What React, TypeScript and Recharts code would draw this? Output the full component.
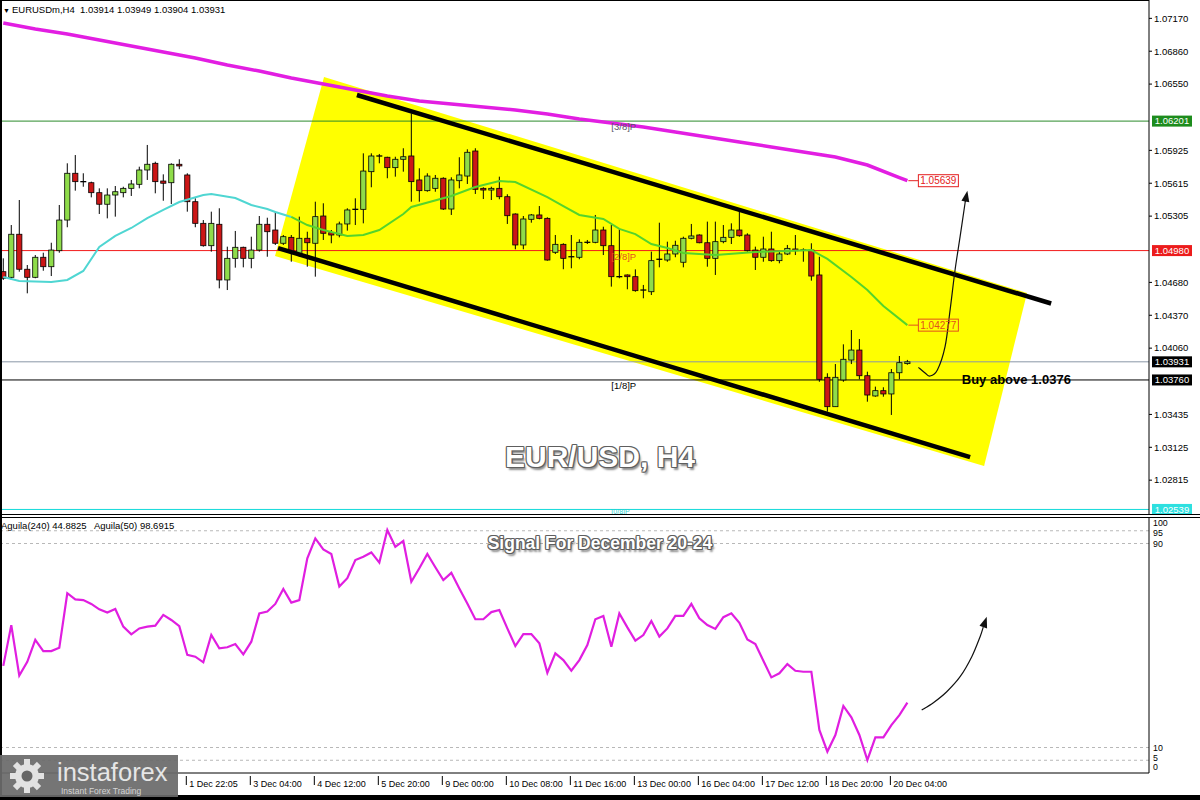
import React from 'react';
import {
  ComposedChart,
  Bar,
  Line,
  XAxis,
  YAxis,
  ReferenceLine,
  ReferenceArea,
  ReferenceDot,
} from 'recharts';

// EURUSD H4 bars, oldest first
const OPEN = [
  1.04781, 1.04728, 1.05134, 1.04804, 1.04728, 1.04917, 1.04828, 1.04979, 1.05268, 1.05709,
  1.0563, 1.0562, 1.05526, 1.05417, 1.05504, 1.05526, 1.05567, 1.05605, 1.0574, 1.05803,
  1.05636, 1.0562, 1.05794, 1.05693, 1.05441, 1.05237, 1.05026, 1.05228, 1.04703, 1.04907,
  1.05011, 1.04907, 1.04985, 1.05228, 1.05174, 1.05049, 1.05105, 1.04954, 1.05096, 1.05049,
  1.05306, 1.05149, 1.05127, 1.05231, 1.0536, 1.05369, 1.05724, 1.05872, 1.0586, 1.05762,
  1.05841, 1.05872, 1.05646, 1.05545, 1.05567, 1.05662, 1.05372, 1.05639, 1.05683, 1.05919,
  1.05567, 1.05551, 1.05567, 1.05488, 1.05325, 1.05033, 1.05275, 1.05316, 1.05284, 1.04964,
  1.05039, 1.04922, 1.04917, 1.05058, 1.05058, 1.05174, 1.05026, 1.04734, 1.0475, 1.04734,
  1.04608, 1.04592, 1.04885, 1.04891, 1.04948, 1.0487, 1.05096, 1.05127, 1.05054, 1.04907,
  1.05064, 1.05105, 1.05174, 1.05127, 1.04985, 1.04917, 1.04995, 1.04885, 1.04948, 1.04995,
  1.04985, 1.04985, 1.0475, 1.03785, 1.03508, 1.0376, 1.03948, 1.04042, 1.038, 1.03609,
  1.03659, 1.03628, 1.03828, 1.03914,
];
const HIGH = [
  1.04907, 1.05221, 1.05457, 1.04844, 1.04938, 1.0496, 1.05054, 1.0541, 1.05803, 1.05881,
  1.05709, 1.0563, 1.05567, 1.05567, 1.05589, 1.05582, 1.05646, 1.05771, 1.05976, 1.05818,
  1.05699, 1.05803, 1.05841, 1.05709, 1.05473, 1.05268, 1.05347, 1.05379, 1.05017, 1.05165,
  1.05017, 1.05111, 1.05306, 1.0529, 1.05347, 1.05127, 1.05127, 1.053, 1.05158, 1.05441,
  1.05426, 1.05174, 1.05253, 1.05379, 1.05473, 1.05897, 1.05897, 1.05891, 1.05865, 1.05865,
  1.05945, 1.06275, 1.05756, 1.05709, 1.05693, 1.05671, 1.05671, 1.0586, 1.05935, 1.05945,
  1.05577, 1.05582, 1.05677, 1.05511, 1.05331, 1.05306, 1.05325, 1.054, 1.05294, 1.05127,
  1.05049, 1.05127, 1.05086, 1.0508, 1.05316, 1.05205, 1.05221, 1.05181, 1.04755, 1.04803,
  1.04656, 1.0497, 1.05243, 1.05064, 1.05073, 1.05111, 1.05231, 1.05133, 1.05253, 1.05253,
  1.05221, 1.05237, 1.05363, 1.05143, 1.05017, 1.05111, 1.05158, 1.0497, 1.05033, 1.05127,
  1.05001, 1.05049, 1.04922, 1.03823, 1.0391, 1.04096, 1.04231, 1.04146, 1.03838, 1.03697,
  1.03691, 1.03863, 1.03986, 1.03949,
];
const LOW = [
  1.04703, 1.04703, 1.04781, 1.04577, 1.04719, 1.0479, 1.0474, 1.0496, 1.052, 1.05545,
  1.05582, 1.05482, 1.05325, 1.05284, 1.053, 1.05482, 1.05495, 1.05567, 1.05646, 1.0552,
  1.0545, 1.05419, 1.05747, 1.05347, 1.052, 1.05017, 1.0497, 1.04624, 1.04608, 1.04819,
  1.04822, 1.04813, 1.0497, 1.04922, 1.05033, 1.05033, 1.04875, 1.04922, 1.04828, 1.04734,
  1.0508, 1.05049, 1.05105, 1.05168, 1.05221, 1.05237, 1.05577, 1.05803, 1.05662, 1.05677,
  1.05724, 1.05441, 1.05441, 1.05535, 1.05535, 1.05363, 1.05316, 1.05567, 1.05608, 1.05514,
  1.05466, 1.05457, 1.05464, 1.05231, 1.04992, 1.04992, 1.05243, 1.05275, 1.04885, 1.04948,
  1.04804, 1.04813, 1.04898, 1.05042, 1.05049, 1.04938, 1.0464, 1.04719, 1.04615, 1.04592,
  1.0453, 1.04561, 1.04822, 1.04875, 1.04917, 1.04822, 1.05086, 1.05049, 1.04828, 1.0475,
  1.05049, 1.05042, 1.05111, 1.0497, 1.04797, 1.04875, 1.04875, 1.0486, 1.04938, 1.04938,
  1.04875, 1.04696, 1.03743, 1.03461, 1.03508, 1.03743, 1.0391, 1.03766, 1.03555, 1.03602,
  1.03602, 1.0343, 1.03766, 1.03904,
];
const CLOSE = [
  1.04719, 1.05134, 1.04804, 1.04728, 1.04917, 1.04828, 1.04985, 1.05268, 1.05709, 1.0563,
  1.05615, 1.05526, 1.05417, 1.05504, 1.05535, 1.05567, 1.05608, 1.0574, 1.05794, 1.0563,
  1.05615, 1.05794, 1.05778, 1.05441, 1.05237, 1.05026, 1.05237, 1.04703, 1.04907, 1.05011,
  1.04907, 1.04985, 1.05228, 1.05158, 1.05049, 1.05111, 1.0497, 1.05096, 1.05054, 1.053,
  1.05143, 1.05127, 1.05231, 1.05363, 1.05369, 1.0573, 1.05872, 1.0586, 1.05762, 1.05841,
  1.05865, 1.0563, 1.05545, 1.05683, 1.05662, 1.05372, 1.05646, 1.05693, 1.05907, 1.05558,
  1.05551, 1.05567, 1.05488, 1.05309, 1.05033, 1.05278, 1.05316, 1.05284, 1.04891, 1.05039,
  1.04907, 1.04913, 1.05058, 1.05049, 1.05174, 1.05026, 1.04734, 1.04722, 1.04734, 1.04602,
  1.04599, 1.04885, 1.04898, 1.04948, 1.0503, 1.05096, 1.05118, 1.05054, 1.04907, 1.05064,
  1.05105, 1.05174, 1.0512, 1.04979, 1.04917, 1.04995, 1.04885, 1.04948, 1.05001, 1.04979,
  1.04976, 1.0474, 1.03766, 1.03508, 1.03785, 1.03955, 1.04042, 1.038, 1.03618, 1.03659,
  1.03628, 1.03828, 1.03923, 1.03931,
];

// slow MA (magenta), read every few bars
const SLOW_MA_IDX = [0, 4, 8, 12, 16, 20, 24, 28, 32, 36, 40, 44, 48, 52, 56, 60, 64, 68, 72, 76, 80, 84, 88, 92, 96, 100, 104, 108, 112, 113];
const SLOW_MA = [
  1.07126, 1.0707, 1.07022, 1.06966, 1.06909, 1.06853, 1.06796, 1.0673, 1.06673, 1.06607,
  1.06551, 1.06494, 1.06438, 1.06391, 1.06362, 1.06334, 1.06306, 1.06268, 1.06221, 1.06183,
  1.06145, 1.06098, 1.06051, 1.06004, 1.05957, 1.0591, 1.05862, 1.05787, 1.05669, 1.05639,
];

// fast MA (cyan / green)
const FAST_MA_IDX = [0, 2, 6, 8, 10, 12, 14, 16, 18, 20, 22, 25, 26, 29, 31, 33, 34, 36, 38, 40, 43, 45, 47, 50, 51, 56, 59, 62, 64, 68, 70, 72, 75, 77, 79, 81, 83, 85, 89, 94, 98, 101, 103, 106, 108, 110, 113];
const FAST_MA = [
  1.04731, 1.04693, 1.04684, 1.04703, 1.04788, 1.05014, 1.05118, 1.05193, 1.05287, 1.05363,
  1.05438, 1.05504, 1.05514, 1.05476, 1.0541, 1.05372, 1.05344, 1.05297, 1.05221, 1.05174,
  1.05118, 1.05127, 1.05174, 1.05325, 1.05391, 1.05495, 1.0558, 1.05636, 1.05627, 1.05485,
  1.054, 1.05316, 1.05278, 1.05184, 1.05136, 1.05042, 1.05004, 1.04957, 1.04938, 1.04967,
  1.04976, 1.04985, 1.04901, 1.04731, 1.04608, 1.04457, 1.04277,
];

// Aguila oscillator, one value per bar
const AGUILA = [
  42.0, 58.0, 38.2, 43.6, 52.2, 47.8, 47.8, 49.1, 70.5, 68.1,
  67.8, 66.3, 64.2, 62.9, 64.3, 57.4, 54.4, 56.7, 57.4, 57.8,
  62.0, 60.0, 57.6, 46.3, 45.6, 43.4, 54.1, 48.9, 49.3, 50.6,
  46.5, 51.5, 62.6, 63.3, 66.3, 72.2, 66.8, 67.8, 84.2, 92.0,
  87.7, 85.9, 73.1, 76.4, 83.5, 84.8, 86.5, 82.5, 95.3, 88.7,
  91.0, 75.0, 80.3, 85.9, 80.7, 75.7, 78.5, 72.4, 66.5, 60.3,
  60.3, 63.1, 63.9, 56.7, 49.8, 54.5, 54.5, 50.9, 39.3, 46.9,
  44.3, 40.1, 44.3, 50.2, 60.3, 61.6, 49.5, 62.6, 57.1, 51.9,
  54.1, 59.6, 53.5, 56.7, 61.6, 61.6, 66.3, 60.7, 58.0, 56.5,
  61.1, 62.6, 58.9, 52.4, 50.6, 44.0, 37.5, 39.1, 42.7, 40.1,
  39.7, 39.7, 16.9, 8.4, 14.9, 26.3, 21.8, 14.9, 5.1, 14.0,
  14.0, 18.8, 22.7, 27.6,
];

const TIME_TICK_IDX = [23, 31, 39, 47, 55, 63, 71, 79, 87, 95, 103, 111];
const TIME_TICK_LABELS = [
  '1 Dec 22:05', '3 Dec 04:00', '4 Dec 12:00', '5 Dec 20:00', '9 Dec 00:00', '10 Dec 08:00',
  '11 Dec 16:00', '13 Dec 00:00', '16 Dec 04:00', '17 Dec 12:00', '18 Dec 20:00', '20 Dec 04:00',
];

const PRICE_TICKS = [1.0717, 1.0686, 1.0655, 1.05925, 1.05615, 1.05305, 1.0468, 1.0437, 1.0406, 1.03435, 1.03125, 1.02815];
const OSC_TICKS = [0, 5, 10, 90, 95, 100];
const OSC_LEVELS = [5, 10, 90, 95];

// horizontal levels and their murrey names
const LEVEL_PRICES = [1.06201, 1.0498, 1.03931, 1.0376, 1.02539];
const MURREY_LABELS = ['[3/8]P', '[2/8]P', '', '[1/8]P', '[0/8]P'];
const MURREY_SLOT = 76;

const BUY_LEVEL = 1.0376;
const BUY_NOTE = 'Buy above 1.0376';

// hand-drawn annotations, as [bar slot, value]
type Pt = [number, number];
const CHANNEL_UPPER: Pt[] = [[44.2, 1.06447], [130.97, 1.04481]];
const CHANNEL_LOWER: Pt[] = [[34.34, 1.05004], [120.84, 1.03033]];
const CHANNEL_FILL: Pt[] = [[40.09, 1.06617], [127.96, 1.0458], [122.59, 1.02949], [33.96, 1.04929]];
const PRICE_ARROW: Pt[] = [
  [114.38, 1.03879], [115.21, 1.03826], [115.84, 1.03797], [116.75, 1.03854], [117.71, 1.04074],
  [118.34, 1.0442], [118.96, 1.04797], [119.59, 1.05111], [120.21, 1.05429], [120.5, 1.05545],
];
const OSC_ARROW: Pt[] = [
  [114.79, 24.7], [116.25, 27.57], [117.92, 31.88], [119.59, 37.76], [121.05, 45.61], [122.09, 53.45], [122.92, 61.3],
];

const X_DOMAIN: [number, number] = [-0.41, 143.2];
const PRICE_DOMAIN: [number, number] = [1.02496, 1.07343];
const FONT = '"Liberation Sans", Arial, Helvetica, sans-serif';

const LEVEL_STYLE = [
  { line: '#2b8a2b', tag: '#1d8c1d', note: '#5a5566', size: 9.5, dy: 6 },
  { line: '#f21b1b', tag: '#ec1c1c', note: '#e4511d', size: 9.5, dy: 6 },
  { line: '#8a96a6', tag: '#000000', note: '#000000', size: 9.5, dy: 6 },
  { line: '#000000', tag: '#000000', note: '#000000', size: 9.5, dy: 6 },
  { line: '#12d9d9', tag: '#2ee0e0', note: '#2ccfcf', size: 7, dy: 2 },
];

const rows = OPEN.map((open, i) => {
  const fi = FAST_MA_IDX.indexOf(i);
  const si = SLOW_MA_IDX.indexOf(i);
  const fast = fi >= 0 ? FAST_MA[fi] : null;
  return {
    slot: i,
    open,
    high: HIGH[i],
    low: LOW[i],
    close: CLOSE[i],
    range: [LOW[i], HIGH[i]],
    slow: si >= 0 ? SLOW_MA[si] : null,
    fastOut: i <= 36 ? fast : null,
    fastIn: i >= 36 ? fast : null,
    aguila: AGUILA[i],
  };
});

const renderCandle = (props: any) => {
  const { x, y, width, height, payload } = props;
  if (x == null || !payload) return <g />;
  const { open, close, high, low } = payload;
  const top = Math.min(y, y + height);
  const span = Math.abs(height);
  const k = span / (high - low || 1e-9);
  const cx = x + width / 2;
  const yOf = (p: number) => top + (high - p) * k;
  const yO = yOf(open);
  const yC = yOf(close);
  const bodyTop = Math.min(yO, yC);
  const bodyH = Math.abs(yC - yO);
  return (
    <g>
      <line x1={cx} x2={cx} y1={top} y2={top + span} stroke="#000" strokeWidth={1} />
      {bodyH < 1.6 ? (
        <line x1={cx - 3} x2={cx + 3} y1={bodyTop} y2={bodyTop} stroke="#000" strokeWidth={1.3} />
      ) : (
        <rect
          x={cx - 2.6}
          y={bodyTop}
          width={5.2}
          height={bodyH}
          fill={close >= open ? '#8fdc4a' : '#cc1616'}
          stroke="#000"
          strokeWidth={0.8}
        />
      )}
    </g>
  );
};

const bounds = (pts: Pt[]) => {
  const xs = pts.map((p) => p[0]);
  const ys = pts.map((p) => p[1]);
  return { x1: Math.min(...xs), x2: Math.max(...xs), y1: Math.min(...ys), y2: Math.max(...ys) };
};

// places a drawing given in data units inside the box that ReferenceArea lays out
const annotation = (key: string, pts: Pt[], draw: (px: Pt[]) => React.ReactElement, zIndex: number) => {
  const b = bounds(pts);
  const shape = (props: any) => {
    const { x, y, width, height } = props;
    if (x == null) return <g />;
    const px = pts.map(
      ([s, v]) => [x + ((s - b.x1) / (b.x2 - b.x1)) * width, y + ((b.y2 - v) / (b.y2 - b.y1)) * height] as Pt,
    );
    return draw(px);
  };
  return (
    <ReferenceArea
      key={key}
      x1={b.x1}
      x2={b.x2}
      y1={b.y1}
      y2={b.y2}
      ifOverflow="visible"
      shape={shape}
      zIndex={zIndex}
    />
  );
};

const smoothPath = (p: Pt[]) => {
  let d = `M${p[0][0]},${p[0][1]}`;
  for (let i = 0; i < p.length - 1; i++) {
    const p0 = p[Math.max(i - 1, 0)];
    const p1 = p[i];
    const p2 = p[i + 1];
    const p3 = p[Math.min(i + 2, p.length - 1)];
    const c1x = p1[0] + (p2[0] - p0[0]) / 6;
    const c1y = p1[1] + (p2[1] - p0[1]) / 6;
    const c2x = p2[0] - (p3[0] - p1[0]) / 6;
    const c2y = p2[1] - (p3[1] - p1[1]) / 6;
    d += ` C${c1x},${c1y} ${c2x},${c2y} ${p2[0]},${p2[1]}`;
  }
  return d;
};

const drawArrow = (p: Pt[]) => {
  const tip = p[p.length - 1];
  const prev = p[p.length - 2];
  const a = Math.atan2(tip[1] - prev[1], tip[0] - prev[0]);
  const len = 11;
  const half = 4;
  const base: Pt = [tip[0] - len * Math.cos(a), tip[1] - len * Math.sin(a)];
  const l: Pt = [base[0] + half * Math.sin(a), base[1] - half * Math.cos(a)];
  const r: Pt = [base[0] - half * Math.sin(a), base[1] + half * Math.cos(a)];
  return (
    <g>
      <path d={smoothPath([...p.slice(0, -1), base])} fill="none" stroke="#111" strokeWidth={1.2} />
      <polygon points={`${tip} ${l} ${r}`} fill="#111" />
    </g>
  );
};

const drawFill = (p: Pt[]) => <polygon points={p.map((q) => q.join(',')).join(' ')} fill="#ffff00" />;

const PriceTick = (props: any) => {
  const { x, y, payload } = props;
  return (
    <g>
      <line x1={x} x2={x + 3} y1={y} y2={y} stroke="#000" />
      <text x={x + 5} y={y} dy="0.35em" fontSize={9.5} fontFamily={FONT} fill="#000">
        {Number(payload.value).toFixed(5)}
      </text>
    </g>
  );
};

// MT4 squeezes the edge labels inward
const OSC_LABEL_SHIFT: Record<number, number> = { 100: 4.5, 95: 1.8, 90: 0, 10: 0, 5: -2.8, 0: -6 };
const OscTick = (props: any) => {
  const { x, y, payload } = props;
  return (
    <text x={x + 4} y={y + (OSC_LABEL_SHIFT[payload.value] ?? 0)} dy="0.35em" fontSize={8.8} fontFamily={FONT} fill="#000">
      {payload.value}
    </text>
  );
};

const TimeTick = (props: any) => {
  const { x, y, payload } = props;
  const k = TIME_TICK_IDX.indexOf(payload.value);
  if (k < 0) return <g />;
  return (
    <g>
      <line x1={x - 1} x2={x - 1} y1={y + 3} y2={y + 12} stroke="#000" />
      <text x={x + 2} y={y + 13.5} fontSize={9} fontFamily={FONT} fill="#000">
        {TIME_TICK_LABELS[k]}
      </text>
    </g>
  );
};

const priceTag = (text: string, bg: string) => (d: any) => (
  <g>
    <rect x={d.cx + 3} y={d.cy - 5.5} width={40} height={11} fill={bg} />
    <text x={d.cx + 23} y={d.cy} dy="0.35em" textAnchor="middle" fontSize={9.5} fontFamily={FONT} fill="#fff">
      {text}
    </text>
  </g>
);

const murreyText = (text: string, color: string, size: number, dy: number) => (d: any) => (
  <text x={d.cx} y={d.cy + dy} dy="0.35em" fontSize={size} fontFamily={FONT} fill={color}>
    {text}
  </text>
);

const endTag = (text: string, color: string) => (d: any) => (
  <g>
    <line x1={d.cx + 1} x2={d.cx + 11} y1={d.cy} y2={d.cy} stroke={color} />
    <rect x={d.cx + 11} y={d.cy - 6} width={40} height={12} fill="none" stroke={color} strokeWidth={1} />
    <text x={d.cx + 31} y={d.cy} dy="0.36em" textAnchor="middle" fontSize={10} fontFamily={FONT} fill={color}>
      {text}
    </text>
  </g>
);

const buyNote = (d: any) => (
  <text x={d.cx} y={d.cy - 1} dy="0.36em" fontSize={13} fontWeight={700} fontFamily={FONT} fill="#000">
    {BUY_NOTE}
  </text>
);

const titleStyle = (size: number, top: number): React.CSSProperties => ({
  position: 'absolute',
  left: 0,
  top,
  width: 1200,
  textAlign: 'center',
  fontFamily: FONT,
  fontWeight: 700,
  fontSize: size,
  lineHeight: 1,
  color: '#fff',
  textShadow:
    '-1px 0 #5e5e5e, 1px 0 #5e5e5e, 0 -1px #5e5e5e, 0 1px #5e5e5e, -1px -1px #777, 1px 1px #5e5e5e, 1px -1px #777, -1px 1px #777, 2px 3px 2px rgba(0,0,0,0.45)',
  whiteSpace: 'nowrap',
});

const bar = (left: number, top: number, width: number, height: number): React.CSSProperties => ({
  position: 'absolute',
  left,
  top,
  width,
  height,
  background: '#000',
});

const Gear = () => {
  const teeth = [0, 45, 90, 135, 180, 225, 270, 315];
  return (
    <g transform="translate(27,21)" fill="#e2e2e2">
      {teeth.map((t) => (
        <rect key={t} x={-3} y={-17} width={6} height={8} transform={`rotate(${t})`} />
      ))}
      <circle r={12} />
      <circle r={5.5} fill="#666" />
    </g>
  );
};

export default function App() {
  const lastSlot = rows.length - 1;
  const slowEnd = SLOW_MA[SLOW_MA.length - 1];
  const fastEnd = FAST_MA[FAST_MA.length - 1];

  return (
    <div style={{ position: 'absolute', left: 0, top: 0, width: 1200, height: 800, background: '#fff', overflow: 'hidden' }}>
      <div style={{ position: 'absolute', left: 0, top: 0 }}>
        <ComposedChart width={1200} height={514} data={rows} margin={{ top: 0, right: 0, bottom: 0, left: 0 }}>
          <XAxis type="number" dataKey="slot" domain={X_DOMAIN} allowDataOverflow hide />
          <YAxis
            type="number"
            orientation="right"
            domain={PRICE_DOMAIN}
            allowDataOverflow
            ticks={PRICE_TICKS}
            interval={0}
            width={51}
            tickSize={0}
            tickMargin={0}
            tickLine={false}
            axisLine={{ stroke: '#000' }}
            tick={<PriceTick />}
          />

          {annotation('fill', CHANNEL_FILL, drawFill, 50)}

          {LEVEL_PRICES.map((p, k) => (
            <ReferenceLine key={`lv${k}`} y={p} stroke={LEVEL_STYLE[k].line} strokeWidth={1} zIndex={60} />
          ))}

          <Bar dataKey="range" barSize={6} shape={renderCandle} isAnimationActive={false} zIndex={300} />

          <Line dataKey="slow" stroke="#e21ee2" strokeWidth={3.5} dot={false} connectNulls isAnimationActive={false} zIndex={400} />
          <Line dataKey="fastOut" stroke="#4fd6d2" strokeWidth={2} dot={false} connectNulls isAnimationActive={false} zIndex={400} />
          <Line dataKey="fastIn" stroke="#55d42c" strokeWidth={2} dot={false} connectNulls isAnimationActive={false} zIndex={400} />

          <ReferenceLine
            segment={[{ x: CHANNEL_UPPER[0][0], y: CHANNEL_UPPER[0][1] }, { x: CHANNEL_UPPER[1][0], y: CHANNEL_UPPER[1][1] }]}
            stroke="#000"
            strokeWidth={4.5}
            ifOverflow="visible"
            zIndex={700}
          />
          <ReferenceLine
            segment={[{ x: CHANNEL_LOWER[0][0], y: CHANNEL_LOWER[0][1] }, { x: CHANNEL_LOWER[1][0], y: CHANNEL_LOWER[1][1] }]}
            stroke="#000"
            strokeWidth={4.5}
            ifOverflow="visible"
            zIndex={700}
          />

          {annotation('priceArrow', PRICE_ARROW, drawArrow, 800)}

          {LEVEL_PRICES.map((p, k) =>
            MURREY_LABELS[k] ? (
              <ReferenceDot
                key={`mm${k}`}
                x={MURREY_SLOT}
                y={p}
                ifOverflow="visible"
                zIndex={800}
                shape={murreyText(MURREY_LABELS[k], LEVEL_STYLE[k].note, LEVEL_STYLE[k].size, LEVEL_STYLE[k].dy)}
              />
            ) : null,
          )}

          <ReferenceDot x={lastSlot} y={slowEnd} ifOverflow="visible" zIndex={800} shape={endTag(slowEnd.toFixed(5), '#e42020')} />
          <ReferenceDot x={lastSlot} y={fastEnd} ifOverflow="visible" zIndex={800} shape={endTag(fastEnd.toFixed(5), '#e2501c')} />
          <ReferenceDot x={119.8} y={BUY_LEVEL} ifOverflow="visible" zIndex={800} shape={buyNote} />

          {LEVEL_PRICES.map((p, k) => (
            <ReferenceDot
              key={`tag${k}`}
              x={X_DOMAIN[1]}
              y={p}
              ifOverflow="visible"
              zIndex={900}
              shape={priceTag(p.toFixed(5), LEVEL_STYLE[k].tag)}
            />
          ))}
        </ComposedChart>
      </div>

      <div style={{ position: 'absolute', left: 0, top: 517 }}>
        <ComposedChart width={1200} height={283} data={rows} margin={{ top: 1, right: 0, bottom: 0, left: 0 }}>
          <XAxis
            type="number"
            dataKey="slot"
            domain={X_DOMAIN}
            allowDataOverflow
            ticks={TIME_TICK_IDX}
            interval={0}
            height={27}
            tickSize={0}
            tickMargin={0}
            tickLine={false}
            axisLine={{ stroke: '#000' }}
            tick={<TimeTick />}
          />
          <YAxis
            type="number"
            orientation="right"
            domain={[0, 100]}
            allowDataOverflow
            ticks={OSC_TICKS}
            interval={0}
            width={51}
            tickSize={0}
            tickMargin={0}
            tickLine={false}
            axisLine={{ stroke: '#000' }}
            tick={<OscTick />}
          />
          {OSC_LEVELS.map((v) => (
            <ReferenceLine key={`osc${v}`} y={v} stroke="#b8b8b8" strokeDasharray="3 3" zIndex={60} />
          ))}
          <Line dataKey="aguila" stroke="#e01ee0" strokeWidth={2.2} dot={false} isAnimationActive={false} zIndex={400} />
          {annotation('oscArrow', OSC_ARROW, drawArrow, 800)}
        </ComposedChart>
      </div>

      {/* frame */}
      <div style={bar(0, 0, 1149, 1)} />
      <div style={bar(0, 0, 2, 800)} />
      <div style={bar(0, 514, 1200, 1)} />
      <div style={bar(0, 517, 1200, 1)} />
      <div style={bar(0, 795, 1200, 5)} />

      {/* panel captions */}
      <div style={{ position: 'absolute', left: 3, top: 4, fontFamily: FONT, fontSize: 9.5, lineHeight: '11px', color: '#000', whiteSpace: 'pre' }}>
        <span style={{ fontSize: 7, marginRight: 2 }}>▼</span>
        {'EURUSDm,H4  1.03914 1.03949 1.03904 1.03931'}
      </div>
      <div style={{ position: 'absolute', left: 1, top: 520, fontFamily: FONT, fontSize: 9.5, lineHeight: '11px', color: '#000', whiteSpace: 'pre' }}>
        {'Aguila(240) 44.8825   Aguila(50) 98.6915'}
      </div>

      <div style={titleStyle(30, 442)}>EUR/USD, H4</div>
      <div style={titleStyle(17.5, 534.5)}>Signal For December 20-24</div>

      {/* broker badge */}
      <svg width={178} height={42} style={{ position: 'absolute', left: 0, top: 755 }}>
        <rect width={178} height={42} fill="#6b6b6b" fillOpacity={0.93} />
        <Gear />
        <text x={57} y={26} fontSize={25.5} fontFamily={FONT} fill="#e6e6e6">
          instaforex
        </text>
        <text x={61} y={39} fontSize={8.5} fontFamily={FONT} fill="#d4d4d4">
          Instant Forex Trading
        </text>
      </svg>
    </div>
  );
}
